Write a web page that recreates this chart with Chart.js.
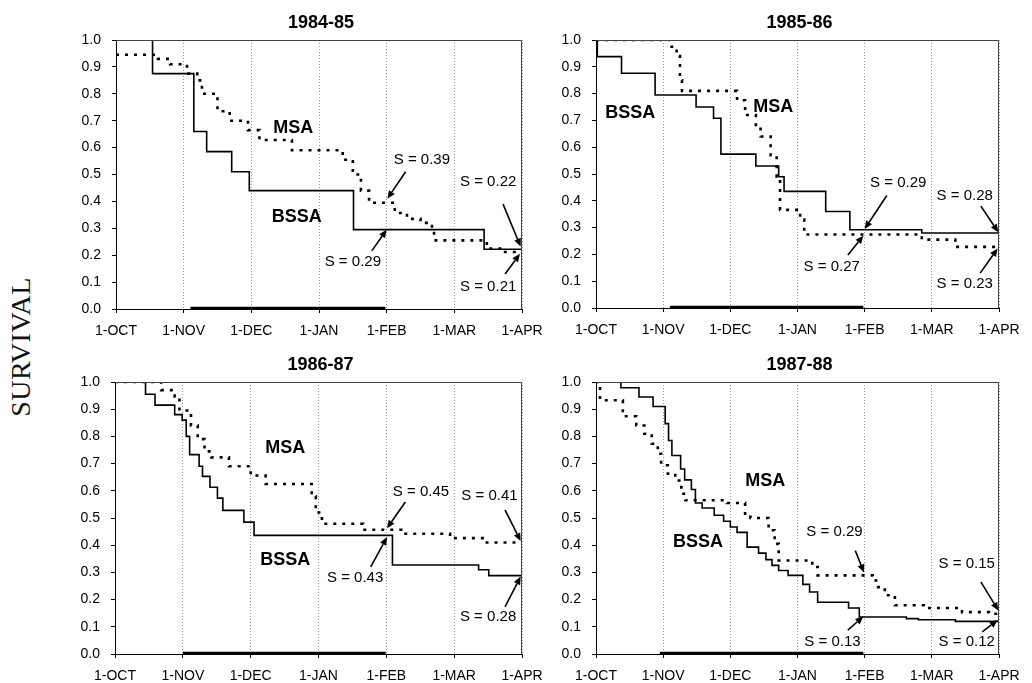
<!DOCTYPE html>
<html>
<head>
<meta charset="utf-8">
<script src="https://cdn.jsdelivr.net/npm/chart.js@4.4.1/dist/chart.umd.min.js"></script>
<style>
  html, body { margin: 0; padding: 0; background: #fff; overflow: hidden; }
  #wrap { position: relative; width: 1032px; height: 683px; overflow: hidden; }
  canvas { position: absolute; }
  #ylab {
    position: absolute; left: 21px; top: 347px;
    transform: translate(-50%, -50%) rotate(-90deg);
    font-family: 'Liberation Serif', 'Times New Roman', serif;
    font-size: 28px; color: #111; white-space: nowrap; letter-spacing: 0.5px;
  }
</style>
</head>
<body>
<div id="wrap">
  <div id="ylab">SURVIVAL</div>
  <canvas id="c1"></canvas>
  <canvas id="c2"></canvas>
  <canvas id="c3"></canvas>
  <canvas id="c4"></canvas>
</div>
<script>
// x values are months after 1-OCT (0 = 1-OCT ... 6 = 1-APR)
const monthLabels = ['1-OCT', '1-NOV', '1-DEC', '1-JAN', '1-FEB', '1-MAR', '1-APR'];
const yTicks = [0, 0.1, 0.2, 0.3, 0.4, 0.5, 0.6, 0.7, 0.8, 0.9, 1.0];

// 1984-85
const bssaT1 = [0, 0.54, 1.15, 1.34, 1.71, 1.97, 3.51, 5.44, 6];
const bssaS1 = [1.0, 0.875, 0.66, 0.585, 0.51, 0.44, 0.295, 0.222, 0.222];
const msaT1 = [0, 0.62, 0.8, 1.05, 1.2, 1.27, 1.5, 1.68, 1.95, 2.12, 2.6, 3.35, 3.5, 3.62, 3.74, 4.12, 4.3, 4.5, 4.67, 4.7, 5.48, 5.75, 6];
const msaS1 = [0.945, 0.93, 0.91, 0.875, 0.85, 0.80, 0.735, 0.70, 0.665, 0.628, 0.59, 0.555, 0.50, 0.44, 0.395, 0.357, 0.335, 0.32, 0.295, 0.255, 0.225, 0.212, 0.212];
const season1 = [1.1, 3.98];

// 1985-86
const bssaT2 = [0, 0.02, 0.38, 0.88, 1.49, 1.75, 1.86, 2.38, 2.72, 2.8, 3.42, 3.78, 4.85, 6];
const bssaS2 = [1.0, 0.938, 0.876, 0.795, 0.75, 0.708, 0.574, 0.53, 0.49, 0.435, 0.36, 0.292, 0.28, 0.28];
const msaT2 = [0, 1.1, 1.2, 1.25, 1.28, 2.1, 2.22, 2.38, 2.45, 2.6, 2.69, 2.74, 3.04, 3.1, 4.85, 5.35, 6];
const msaS2 = [1.0, 0.975, 0.94, 0.85, 0.81, 0.775, 0.72, 0.677, 0.64, 0.57, 0.49, 0.366, 0.33, 0.274, 0.255, 0.228, 0.228];
const season2 = [1.1, 3.98];

// 1986-87
const bssaT3 = [0, 0.45, 0.59, 0.88, 0.99, 1.05, 1.1, 1.24, 1.29, 1.4, 1.51, 1.59, 1.9, 2.05, 4.09, 5.36, 5.51, 6];
const bssaS3 = [1.0, 0.955, 0.915, 0.88, 0.86, 0.80, 0.733, 0.69, 0.653, 0.613, 0.573, 0.528, 0.485, 0.436, 0.327, 0.31, 0.288, 0.288];
const msaT3 = [0, 0.68, 0.88, 0.95, 1.12, 1.22, 1.32, 1.42, 1.68, 2.0, 2.22, 2.9, 2.96, 3.05, 3.66, 4.22, 4.94, 5.45, 6];
const msaS3 = [1.0, 0.97, 0.947, 0.895, 0.84, 0.79, 0.745, 0.723, 0.69, 0.656, 0.625, 0.58, 0.52, 0.479, 0.457, 0.442, 0.426, 0.41, 0.41];
const season3 = [1.0, 3.99];

// 1987-88
const bssaT4 = [0, 0.37, 0.64, 0.85, 1.03, 1.08, 1.13, 1.26, 1.32, 1.42, 1.48, 1.58, 1.76, 1.9, 2.0, 2.1, 2.25, 2.42, 2.53, 2.62, 2.72, 2.86, 3.08, 3.18, 3.3, 3.76, 3.92, 4.62, 4.8, 5.35, 6];
const bssaS4 = [1.0, 0.979, 0.945, 0.91, 0.847, 0.785, 0.73, 0.68, 0.64, 0.605, 0.555, 0.537, 0.51, 0.488, 0.467, 0.447, 0.393, 0.371, 0.347, 0.326, 0.307, 0.289, 0.256, 0.228, 0.19, 0.169, 0.136, 0.13, 0.126, 0.12, 0.12];
const msaT4 = [0, 0.06, 0.4, 0.6, 0.72, 0.83, 0.92, 0.97, 1.07, 1.18, 1.27, 1.33, 1.95, 2.22, 2.3, 2.57, 2.66, 2.72, 3.22, 3.3, 4.12, 4.2, 4.3, 4.45, 4.88, 5.45, 5.85, 6];
const msaS4 = [1.0, 0.933, 0.874, 0.84, 0.81, 0.773, 0.736, 0.694, 0.663, 0.638, 0.589, 0.565, 0.555, 0.504, 0.50, 0.455, 0.405, 0.344, 0.32, 0.289, 0.27, 0.246, 0.216, 0.179, 0.169, 0.154, 0.148, 0.148];
const season4 = [0.95, 3.98];

// annotations: [text, x, y] in data units; arrows: [x0, y0, x1, y1] tail -> tip
const panels = [
  { id: 'c1', title: '1984-85', box: [40, 0, 522, 338], pad: { left: 0, right: 40, top: 40, bottom: 0 },
    bT: bssaT1, bS: bssaS1, mT: msaT1, mS: msaS1, season: season1,
    names: [['MSA', 2.62, 0.673], ['BSSA', 2.67, 0.342]],
    notes: [['S = 0.39', 4.52, 0.554], ['S = 0.22', 5.5, 0.472], ['S = 0.29', 3.5, 0.175], ['S = 0.21', 5.5, 0.082]],
    arrows: [[4.28, 0.51, 4.01, 0.41], [5.72, 0.39, 5.98, 0.232], [3.78, 0.216, 4.0, 0.295], [5.75, 0.13, 5.97, 0.205]] },
  { id: 'c2', title: '1985-86', box: [520, 0, 519, 337], pad: { left: 0, right: 40, top: 40, bottom: 0 },
    bT: bssaT2, bS: bssaS2, mT: msaT2, mS: msaS2, season: season2,
    names: [['BSSA', 0.51, 0.728], ['MSA', 2.64, 0.75]],
    notes: [['S = 0.29', 4.5, 0.466], ['S = 0.27', 3.51, 0.153], ['S = 0.28', 5.49, 0.42], ['S = 0.23', 5.49, 0.09]],
    arrows: [[4.33, 0.42, 4.0, 0.295], [3.75, 0.198, 3.98, 0.27], [5.73, 0.38, 5.99, 0.283], [5.72, 0.13, 5.98, 0.222]] },
  { id: 'c3', title: '1986-87', box: [39, 345, 523, 338], pad: { left: 0, right: 40, top: 37, bottom: 0 },
    bT: bssaT3, bS: bssaS3, mT: msaT3, mS: msaS3, season: season3,
    names: [['MSA', 2.51, 0.757], ['BSSA', 2.51, 0.346]],
    notes: [['S = 0.45', 4.51, 0.596], ['S = 0.43', 3.54, 0.279], ['S = 0.41', 5.52, 0.581], ['S = 0.28', 5.5, 0.136]],
    arrows: [[4.28, 0.559, 4.01, 0.462], [3.77, 0.32, 4.01, 0.43], [5.75, 0.53, 5.98, 0.415], [5.75, 0.173, 5.98, 0.285]] },
  { id: 'c4', title: '1987-88', box: [520, 345, 519, 338], pad: { left: 0, right: 40, top: 37, bottom: 0 },
    bT: bssaT4, bS: bssaS4, mT: msaT4, mS: msaS4, season: season4,
    names: [['MSA', 2.52, 0.636], ['BSSA', 1.52, 0.412]],
    notes: [['S = 0.29', 3.55, 0.449], ['S = 0.13', 3.52, 0.044], ['S = 0.15', 5.52, 0.331], ['S = 0.12', 5.52, 0.044]],
    arrows: [[3.86, 0.38, 3.99, 0.3], [3.75, 0.088, 3.98, 0.138], [5.73, 0.265, 5.99, 0.16], [5.75, 0.081, 5.98, 0.125]] }
];

Chart.defaults.font.family = "'Liberation Sans', Arial, sans-serif";
Chart.defaults.font.size = 14;
Chart.defaults.color = '#000';

function toXY(ts, ss) {
  return ts.map((t, i) => ({ x: t, y: ss[i] }));
}

function notesPlugin(p) {
  return {
    id: 'notes',
    afterDraw(chart) {
      const ctx = chart.ctx;
      const a = chart.chartArea;
      const xs = chart.scales.x, ys = chart.scales.y;
      ctx.save();
      // frame top and right
      ctx.strokeStyle = '#444';
      ctx.lineWidth = 1;
      ctx.beginPath();
      ctx.moveTo(a.left, a.top + 0.5);
      ctx.lineTo(a.right - 0.5, a.top + 0.5);
      ctx.lineTo(a.right - 0.5, a.bottom);
      ctx.stroke();
      // title
      ctx.fillStyle = '#000';
      ctx.textAlign = 'center';
      ctx.textBaseline = 'middle';
      ctx.font = "bold 18px 'Liberation Sans', Arial, sans-serif";
      ctx.fillText(p.title, (a.left + a.right) / 2 + 2, a.top - 17);
      // series names
      ctx.font = "bold 18px 'Liberation Sans', Arial, sans-serif";
      p.names.forEach(([t, x, y]) => ctx.fillText(t, xs.getPixelForValue(x), ys.getPixelForValue(y)));
      // S = labels
      ctx.font = "15px 'Liberation Sans', Arial, sans-serif";
      p.notes.forEach(([t, x, y]) => ctx.fillText(t, xs.getPixelForValue(x), ys.getPixelForValue(y)));
      // arrows
      ctx.strokeStyle = '#000';
      ctx.lineWidth = 1.6;
      p.arrows.forEach(([x0, y0, x1, y1]) => {
        const px0 = xs.getPixelForValue(x0), py0 = ys.getPixelForValue(y0);
        const px1 = xs.getPixelForValue(x1), py1 = ys.getPixelForValue(y1);
        const ang = Math.atan2(py1 - py0, px1 - px0);
        const L = 8, W = 3.5;
        const bx = px1 - L * Math.cos(ang), by = py1 - L * Math.sin(ang);
        ctx.beginPath();
        ctx.moveTo(px0, py0);
        ctx.lineTo(bx, by);
        ctx.stroke();
        ctx.beginPath();
        ctx.moveTo(px1, py1);
        ctx.lineTo(bx + W * Math.sin(ang), by - W * Math.cos(ang));
        ctx.lineTo(bx - W * Math.sin(ang), by + W * Math.cos(ang));
        ctx.closePath();
        ctx.fill();
      });
      ctx.restore();
    }
  };
}

panels.forEach(p => {
  const cv = document.getElementById(p.id);
  cv.style.left = p.box[0] + 'px';
  cv.style.top = p.box[1] + 'px';
  cv.width = p.box[2];
  cv.height = p.box[3];

  new Chart(cv.getContext('2d'), {
    type: 'line',
    data: {
      datasets: [
        {
          label: 'BSSA',
          data: toXY(p.bT, p.bS),
          borderColor: '#000',
          borderWidth: 1.6,
          stepped: true,
          pointRadius: 0,
          fill: false
        },
        {
          label: 'MSA',
          data: toXY(p.mT, p.mS),
          borderColor: '#000',
          borderWidth: 2.6,
          borderDash: [3, 6],
          stepped: true,
          pointRadius: 0,
          fill: false
        },
        {
          label: 'season',
          data: toXY(p.season, [0, 0]),
          borderColor: '#000',
          borderWidth: 4.5,
          pointRadius: 0,
          fill: false
        }
      ]
    },
    options: {
      responsive: false,
      animation: false,
      layout: { padding: p.pad },
      plugins: {
        legend: { display: false },
        tooltip: { enabled: false }
      },
      scales: {
        x: {
          type: 'linear',
          min: 0,
          max: 6,
          afterFit: s => { s.height = 29; },
          afterBuildTicks: s => { s.ticks = monthLabels.map((_, i) => ({ value: i })); },
          ticks: {
            autoSkip: false,
            maxRotation: 0,
            padding: 10,
            callback: v => monthLabels[v]
          },
          grid: {
            color: '#999',
            lineWidth: 1,
            tickLength: 4,
            tickColor: '#000',
            tickBorderDash: []
          },
          border: { display: true, color: '#000', width: 1, dash: [1, 2] }
        },
        y: {
          min: 0,
          max: 1,
          afterFit: s => { s.width = 76; },
          afterBuildTicks: s => { s.ticks = yTicks.map(v => ({ value: v })); },
          ticks: {
            padding: 11,
            callback: v => v.toFixed(1)
          },
          grid: {
            drawOnChartArea: false,
            tickLength: 4,
            color: '#000'
          },
          border: { display: true, color: '#000', width: 1 }
        }
      }
    },
    plugins: [notesPlugin(p)]
  });
});
</script>
</body>
</html>
